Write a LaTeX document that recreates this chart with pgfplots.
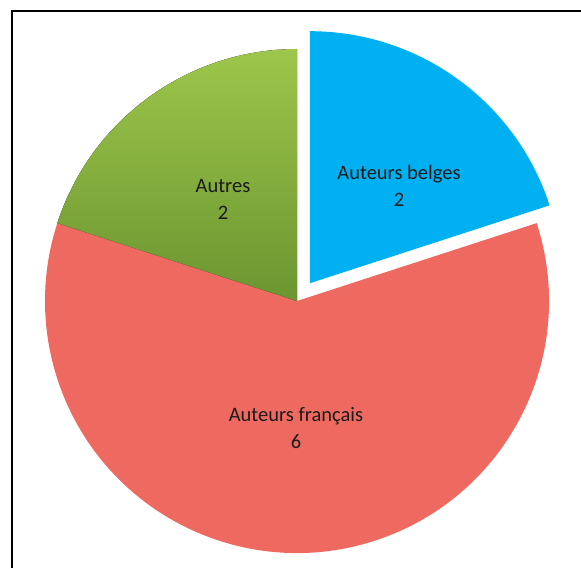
\documentclass[border=0pt]{standalone}
\usepackage{pgfplots}
\pgfplotsset{compat=1.18}
\usepackage{pgfplotstable}
\usepackage{fontspec}
\setmainfont{Carlito}
\definecolor{belge}{HTML}{00B0F0}
\definecolor{fr}{HTML}{EE6A61}
\definecolor{gtop}{HTML}{9DC64B}
\definecolor{gbot}{HTML}{6B9530}
\definecolor{txt}{HTML}{1A1A1A}

\pgfplotstableread{
value
2
6
2
}\piedata

\begin{document}
\begin{tikzpicture}
\pgfplotstablegetelem{0}{value}\of\piedata \let\va\pgfplotsretval
\pgfplotstablegetelem{1}{value}\of\piedata \let\vb\pgfplotsretval
\pgfplotstablegetelem{2}{value}\of\piedata \let\vc\pgfplotsretval
\pgfmathsetmacro\tot{\va+\vb+\vc}
\pgfmathsetmacro\aA{90-360*\va/\tot}
\pgfmathsetmacro\aB{\aA-360*\vb/\tot}
\pgfmathsetmacro\aC{\aB-360*\vc/\tot}
\pgfmathsetmacro\mA{(90+\aA)/2}
\begin{axis}[x=1pt,y=1pt,xmin=0,xmax=581,ymin=0,ymax=568,hide axis,scale only axis,clip=false]
% frame
\draw[line width=2.6pt] (axis cs:12,0) -- (axis cs:12,556.8) -- (axis cs:581,556.8);
% Auteurs français
\fill[fr] (axis cs:297,267) -- ++(\aA:252pt) arc[start angle=\aA, end angle=\aB, radius=252pt] -- cycle;
% Autres
\fill[top color=gtop, bottom color=gbot] (axis cs:297,267) -- ++(\aB:252pt) arc[start angle=\aB, end angle=\aC, radius=252pt] -- cycle;
% Auteurs belges (exploded)
\fill[belge] (axis cs:297,267) ++(\mA:22pt) -- ++(90:252pt) arc[start angle=90, end angle=\aA, radius=252pt] -- cycle;
% labels
\node[align=center, text=txt, font=\fontsize{20.5}{27}\selectfont] at (axis cs:399,382) {Auteurs belges\\\va};
\node[align=center, text=txt, font=\fontsize{20.5}{27}\selectfont] at (axis cs:296,140) {Auteurs français\\\vb};
\node[align=center, text=txt, font=\fontsize{20.5}{27}\selectfont] at (axis cs:223,369) {Autres\\\vc};
\end{axis}
\pgfresetboundingbox
\useasboundingbox (0,0) rectangle (581pt,568pt);
\end{tikzpicture}
\end{document}
